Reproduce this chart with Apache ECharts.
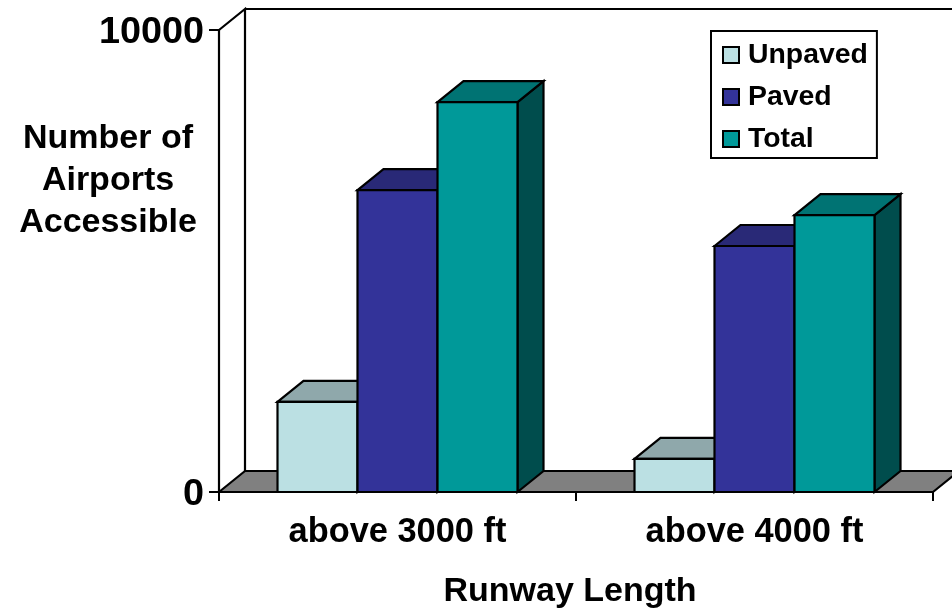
<!DOCTYPE html>
<html><head><meta charset="utf-8">
<style>html,body{margin:0;padding:0;background:#fff}#c{width:952px;height:608px}</style>
<script src="https://cdn.jsdelivr.net/npm/echarts@6/dist/echarts.min.js"></script>
</head><body><div id="c"></div>
<script>
const categories = ['above 3000 ft', 'above 4000 ft'];
const unpaved = [1950, 715];
const paved = [6535, 5325];
const total = [8440, 5995];
const yTicks = [0, 10000];

const depthX = 26, depthY = 21, barFrac = 80 / 357;
const FONT = '"Liberation Sans", Arial, sans-serif';
const line = { stroke: '#000', lineWidth: 2.2, lineJoin: 'miter' };

function bar3d(slot, front, top, side) {
  return function (params, api) {
    const i = api.value(0), v = api.value(1);
    const base = api.coord([i, 0]), head = api.coord([i, v]);
    const w = api.size([1, 0])[0] * barFrac;
    const x = base[0] + (slot - 1.5) * w, y0 = base[1], y1 = head[1];
    const poly = (pts, fill) => ({ type: 'polygon', shape: { points: pts }, style: Object.assign({ fill }, line) });
    return { type: 'group', children: [
      poly([[x + w, y0], [x + w + depthX, y0 - depthY], [x + w + depthX, y1 - depthY], [x + w, y1]], side),
      poly([[x, y1], [x + depthX, y1 - depthY], [x + w + depthX, y1 - depthY], [x + w, y1]], top),
      poly([[x, y0], [x + w, y0], [x + w, y1], [x, y1]], front)
    ]};
  };
}
function rows(vals) { return vals.map((v, i) => [i, v]); }
function backdrop(params) {
  const c = params.coordSys, L = c.x, R = c.x + c.width, T = c.y, B = c.y + c.height;
  return { type: 'group', children: [
    { type: 'polygon', shape: { points: [[L, B], [L + depthX, B - depthY], [R + depthX, B - depthY], [R, B]] }, style: Object.assign({ fill: '#808080' }, line) },
    { type: 'polyline', shape: { points: [[L, T], [L + depthX, T - depthY], [L + depthX, B - depthY]] }, style: Object.assign({ fill: 'none' }, line) },
    { type: 'line', shape: { x1: L + depthX, y1: T - depthY, x2: R + depthX, y2: T - depthY }, style: line }
  ]};
}

const chart = echarts.init(document.getElementById('c'), null, { renderer: 'canvas' });
chart.setOption({
  animation: false,
  backgroundColor: '#fff',
  title: {
    text: 'Number of\nAirports\nAccessible', left: 108, top: 118, textAlign: 'center', padding: 0,
    textStyle: { fontFamily: FONT, fontWeight: 'bold', fontSize: 34, color: '#000', lineHeight: 42 }
  },
  grid: { left: 219, top: 30, width: 714, height: 462, containLabel: false, outerBoundsMode: 'none' },
  legend: {
    data: ['Unpaved', 'Paved', 'Total'], orient: 'vertical', left: 711, top: 31,
    padding: [10, 9, 5, 11], itemGap: 14, itemWidth: 16, itemHeight: 16, icon: 'rect',
    borderColor: '#000', borderWidth: 2, backgroundColor: '#fff',
    itemStyle: { borderColor: '#000', borderWidth: 2 },
    textStyle: { fontFamily: FONT, fontWeight: 'bold', fontSize: 28.4, color: '#000', padding: [0, 0, 0, 4], verticalAlign: 'top', lineHeight: 6 }
  },
  xAxis: {
    type: 'category', data: categories, z: 5,
    name: 'Runway Length', nameLocation: 'middle', nameGap: 83,
    nameTextStyle: { fontFamily: FONT, fontWeight: 'bold', fontSize: 34, color: '#000', padding: [0, 12, 0, 0] },
    axisLine: { lineStyle: { color: '#000', width: 2.2 } },
    axisTick: { show: true, length: 9, lineStyle: { color: '#000', width: 2 } },
    axisLabel: { interval: 0, margin: 24, fontFamily: FONT, fontWeight: 'bold', fontSize: 34.4, color: '#000' }
  },
  yAxis: {
    type: 'value', min: yTicks[0], max: yTicks[1], interval: yTicks[1], z: 5,
    axisLine: { show: true, onZero: false, lineStyle: { color: '#000', width: 2.2 } },
    axisTick: { show: true, length: 10, lineStyle: { color: '#000', width: 2 } },
    axisLabel: { margin: 15, formatter: v => String(v), verticalAlign: 'top', lineHeight: 6, fontFamily: FONT, fontWeight: 'bold', fontSize: 37.8, color: '#000' },
    splitLine: { show: false }
  },
  series: [
    { type: 'custom', name: 'wall', silent: true, clip: false, data: [[0, 0]], renderItem: backdrop, z: 1 },
    { type: 'custom', name: 'Unpaved', clip: false, data: rows(unpaved), encode: { x: 0, y: 1 }, z: 2, itemStyle: { color: '#BBE0E3' }, renderItem: bar3d(0, '#BBE0E3', '#8FA8AB', '#5F7A7D') },
    { type: 'custom', name: 'Paved', clip: false, data: rows(paved), encode: { x: 0, y: 1 }, z: 3, itemStyle: { color: '#333399' }, renderItem: bar3d(1, '#333399', '#292977', '#1A1A4D') },
    { type: 'custom', name: 'Total', clip: false, data: rows(total), encode: { x: 0, y: 1 }, z: 4, itemStyle: { color: '#009999' }, renderItem: bar3d(2, '#009999', '#007373', '#004D4D') }
  ]
});
</script></body></html>
